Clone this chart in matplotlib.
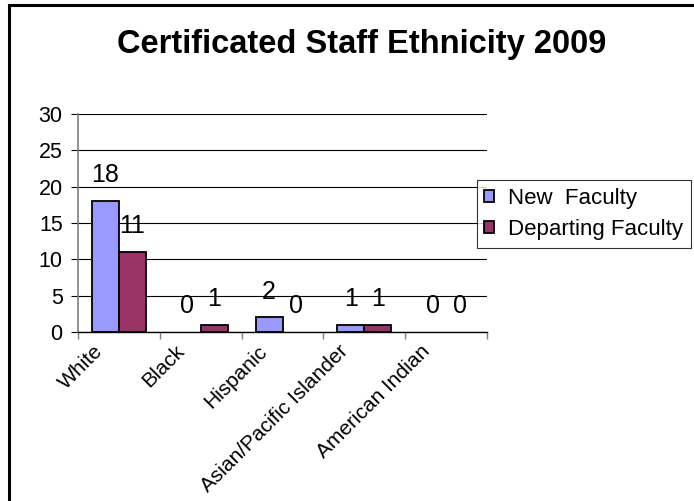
import numpy as np
import matplotlib.pyplot as plt
import matplotlib.transforms as mtransforms
from matplotlib.patches import Rectangle

plt.rcParams['font.family'] = ['Liberation Sans', 'DejaVu Sans']

categories = ['White', 'Black', 'Hispanic', 'Asian/Pacific Islander', 'American Indian']
new_faculty = [18, 0, 2, 1, 0]
departing_faculty = [11, 1, 0, 1, 0]
series_names = ['New  Faculty', 'Departing Faculty']
colors = ['#9999FF', '#993366']

W, H = 694, 501
fig = plt.figure(figsize=(W / 100, H / 100), dpi=100)
ax = fig.add_axes([78 / W, 1 - 332 / H, (487 - 78) / W, (332 - 114) / H])

x = np.arange(len(categories))
bw = 0.33
b1 = ax.bar(x - bw / 2, new_faculty, bw, color=colors[0], edgecolor='black',
            linewidth=1.3, label=series_names[0], zorder=3)
b2 = ax.bar(x + bw / 2, departing_faculty, bw, color=colors[1], edgecolor='black',
            linewidth=1.3, label=series_names[1], zorder=3)

for bars, vals in [(b1, new_faculty), (b2, departing_faculty)]:
    for rect, v in zip(bars, vals):
        if v == 0:
            rect.set_visible(False)
        ax.annotate(str(v), (rect.get_x() + rect.get_width() / 2, v),
                    xytext=(0, 10), textcoords='offset points',
                    ha='center', va='bottom', fontsize=18)

ax.set_ylim(0, 30)
ax.set_xlim(-0.5, len(categories) - 0.5)
ax.set_yticks(np.arange(0, 31, 5))
ax.yaxis.grid(True, color='black', linewidth=0.8, zorder=0)
ax.set_axisbelow(True)
for s in ['top', 'right']:
    ax.spines[s].set_visible(False)
ax.spines['left'].set_color('#808080')
ax.spines['left'].set_linewidth(1.2)
ax.spines['bottom'].set_color('black')
ax.spines['bottom'].set_linewidth(1.0)
ax.tick_params(axis='y', length=5, width=0.8, color='black', labelsize=15.5, pad=6)

# category boundaries as tick marks, labels at category centres
ax.set_xticks(np.arange(-0.5, len(categories), 1.0))
ax.set_xticklabels([])
ax.tick_params(axis='x', which='major', length=5, width=1.0, color='#808080')
ax.set_xticks(x, minor=True)
ax.set_xticklabels(categories, minor=True, rotation=45, ha='right', fontsize=15)
ax.tick_params(axis='x', which='minor', length=0, pad=7)
offset = mtransforms.ScaledTranslation(-12 / 100, 0, fig.dpi_scale_trans)
for lbl in ax.get_xticklabels(minor=True):
    lbl.set_transform(lbl.get_transform() + offset)

fig.text(362 / W, 1 - 45 / H, 'Certificated Staff Ethnicity 2009',
         ha='center', va='center', fontsize=23.5, fontweight='bold')

leg = fig.legend(handles=[b1, b2], loc='upper left',
                 bbox_to_anchor=(476.5 / W, 1 - 180 / H), fontsize=16,
                 frameon=True, fancybox=False, handlelength=0.42, handleheight=0.42,
                 handletextpad=0.65, borderpad=0.35, labelspacing=0.45, borderaxespad=0)
leg.get_frame().set_edgecolor('black')
leg.get_frame().set_linewidth(0.8)
for h in leg.legend_handles:
    h.set_linewidth(1.3)

# outer frame of the chart area
fig.patches.append(Rectangle((8.5 / W, -0.05), 1.0, 1.05 - 5.5 / H,
                             transform=fig.transFigure, fill=False,
                             edgecolor='black', linewidth=2.2))

fig.savefig('out.png', dpi=100)
